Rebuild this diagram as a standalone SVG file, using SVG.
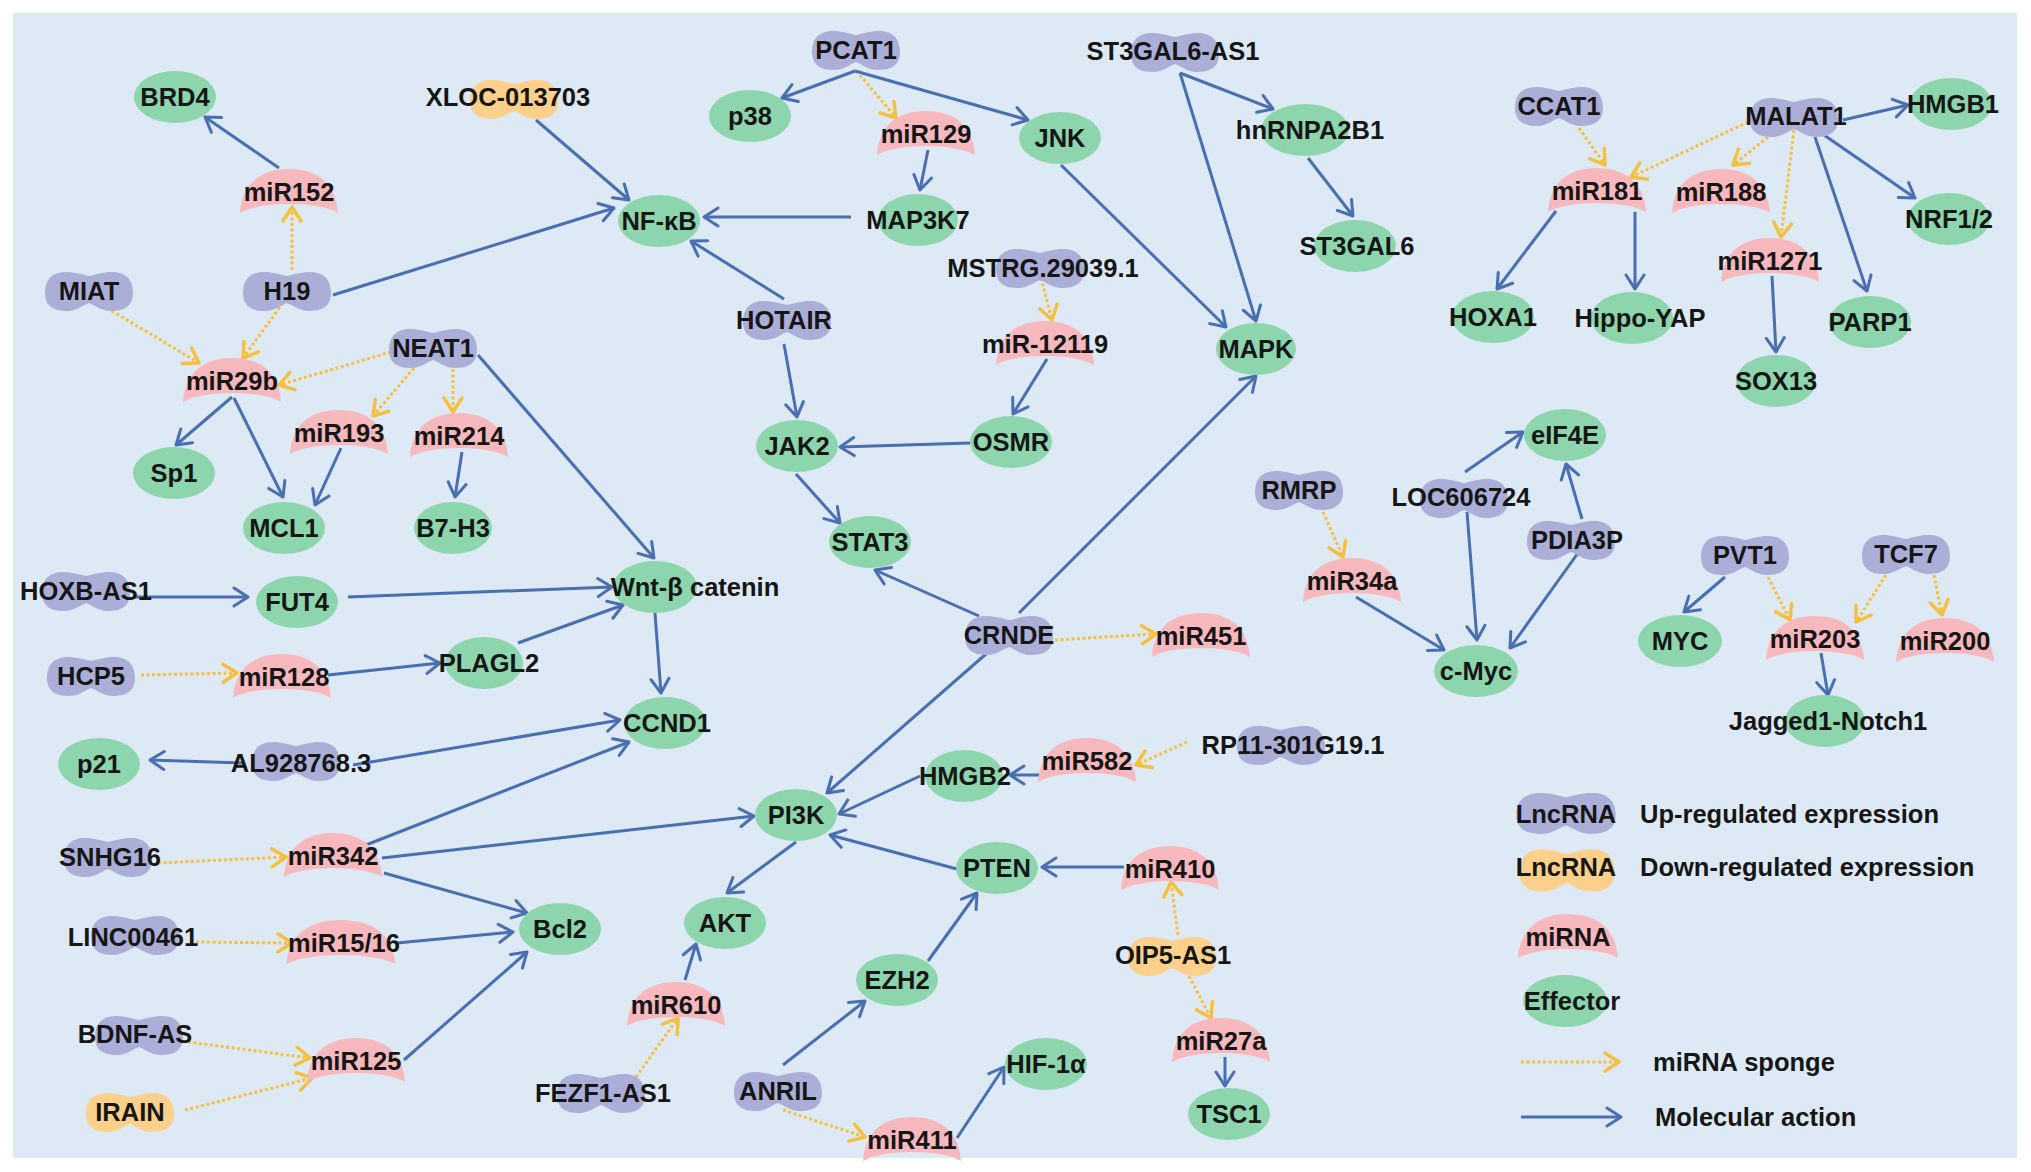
<svg xmlns="http://www.w3.org/2000/svg" width="2031" height="1172" viewBox="0 0 2031 1172">
<style>
.t{font-family:"Liberation Sans",Arial,sans-serif;font-weight:bold;font-size:25.5px;fill:#161616;text-anchor:middle}
.l{font-family:"Liberation Sans",Arial,sans-serif;font-weight:bold;font-size:25.5px;fill:#161616;text-anchor:start}
.up{fill:#abafd8}
.down{fill:#fdd08c}
.mi{fill:#f7b8be}
.ef{fill:#8dd5ad}
.b{fill:none;stroke:#4a6fb0;stroke-width:3;marker-end:url(#ab)}
.y{fill:none;stroke:#f5c040;stroke-width:3;stroke-dasharray:3 2.5;marker-end:url(#ay)}
</style>
<defs>
<path id="lnc" d="M-44,2 C-44,-14 -34,-20 -20,-19 C-10,-18 -6,-16 0,-15 C6,-16 10,-18 20,-19 C34,-20 44,-14 44,2 C44,16 34,20 22,20 C12,20 6,14 0,12 C-6,14 -12,20 -22,20 C-34,20 -44,16 -44,2 Z"/>
<path id="mir" d="M-49,22 C-47,-8 -28,-22 0,-22 C28,-22 47,-8 49,22 C30,10 -30,10 -49,22 Z"/>
<marker id="ab" markerUnits="userSpaceOnUse" markerWidth="20" markerHeight="22" viewBox="0 0 20 22" refX="17" refY="11" orient="auto"><path d="M3,2 L17,11 L3,20" fill="none" stroke="#4a6fb0" stroke-width="3" stroke-linecap="round" stroke-linejoin="round"/></marker>
<marker id="ay" markerUnits="userSpaceOnUse" markerWidth="20" markerHeight="22" viewBox="0 0 20 22" refX="17" refY="11" orient="auto"><path d="M3,2 L17,11 L3,20" fill="none" stroke="#f5c040" stroke-width="3.5" stroke-linecap="round" stroke-linejoin="round"/></marker>
</defs>
<rect x="0" y="0" width="2031" height="1172" fill="#ffffff"/>
<rect x="13" y="13" width="2004" height="1145" fill="#dde9f5"/>

<g id="connectors">
<line class="b" x1="279" y1="168" x2="205" y2="117"/>
<line class="b" x1="536" y1="120" x2="629" y2="200"/>
<line class="b" x1="333" y1="295" x2="614" y2="208"/>
<line class="b" x1="851" y1="217" x2="704" y2="217"/>
<line class="b" x1="784" y1="299" x2="691" y2="241"/>
<line class="b" x1="855" y1="71" x2="782" y2="98"/>
<line class="b" x1="855" y1="71" x2="1028" y2="120"/>
<line class="b" x1="928" y1="150" x2="920" y2="190"/>
<line class="b" x1="1061" y1="165" x2="1226" y2="327"/>
<line class="b" x1="1180" y1="73" x2="1273" y2="109"/>
<line class="b" x1="1180" y1="73" x2="1256" y2="321"/>
<line class="b" x1="1308" y1="158" x2="1353" y2="216"/>
<line class="b" x1="232" y1="397" x2="176" y2="445"/>
<line class="b" x1="234" y1="398" x2="283" y2="497"/>
<line class="b" x1="341" y1="448" x2="315" y2="505"/>
<line class="b" x1="462" y1="452" x2="455" y2="497"/>
<line class="b" x1="478" y1="355" x2="654" y2="558"/>
<line class="b" x1="784" y1="344" x2="797" y2="417"/>
<line class="b" x1="1047" y1="359" x2="1013" y2="414"/>
<line class="b" x1="970" y1="443" x2="840" y2="447"/>
<line class="b" x1="796" y1="474" x2="840" y2="523"/>
<line class="b" x1="979" y1="616" x2="875" y2="570"/>
<line class="b" x1="1019" y1="613" x2="1256" y2="376"/>
<line class="b" x1="986" y1="654" x2="827" y2="793"/>
<line class="b" x1="134" y1="597" x2="248" y2="597"/>
<line class="b" x1="348" y1="597" x2="612" y2="587"/>
<line class="b" x1="328" y1="675" x2="440" y2="663"/>
<line class="b" x1="518" y1="643" x2="623" y2="605"/>
<line class="b" x1="655" y1="613" x2="661" y2="693"/>
<line class="b" x1="243" y1="763" x2="150" y2="760"/>
<line class="b" x1="353" y1="765" x2="620" y2="720"/>
<line class="b" x1="366" y1="845" x2="629" y2="742"/>
<line class="b" x1="382" y1="858" x2="754" y2="816"/>
<line class="b" x1="384" y1="873" x2="527" y2="913"/>
<line class="b" x1="397" y1="943" x2="513" y2="932"/>
<line class="b" x1="404" y1="1060" x2="527" y2="952"/>
<line class="b" x1="920" y1="776" x2="839" y2="814"/>
<line class="b" x1="1040" y1="775" x2="1010" y2="775"/>
<line class="b" x1="957" y1="869" x2="830" y2="835"/>
<line class="b" x1="796" y1="842" x2="727" y2="893"/>
<line class="b" x1="1124" y1="867" x2="1042" y2="867"/>
<line class="b" x1="928" y1="961" x2="977" y2="893"/>
<line class="b" x1="783" y1="1065" x2="865" y2="1001"/>
<line class="b" x1="685" y1="980" x2="696" y2="944"/>
<line class="b" x1="957" y1="1138" x2="1004" y2="1067"/>
<line class="b" x1="1225" y1="1057" x2="1225" y2="1086"/>
<line class="b" x1="1465" y1="472" x2="1523" y2="432"/>
<line class="b" x1="1582" y1="519" x2="1566" y2="464"/>
<line class="b" x1="1467" y1="512" x2="1477" y2="640"/>
<line class="b" x1="1578" y1="553" x2="1510" y2="648"/>
<line class="b" x1="1356" y1="597" x2="1444" y2="650"/>
<line class="b" x1="1843" y1="120" x2="1908" y2="105"/>
<line class="b" x1="1824" y1="135" x2="1915" y2="198"/>
<line class="b" x1="1815" y1="137" x2="1867" y2="291"/>
<line class="b" x1="1556" y1="211" x2="1497" y2="289"/>
<line class="b" x1="1635" y1="212" x2="1635" y2="289"/>
<line class="b" x1="1772" y1="276" x2="1776" y2="352"/>
<line class="b" x1="1725" y1="577" x2="1684" y2="612"/>
<line class="b" x1="1821" y1="653" x2="1828" y2="695"/>

<line class="y" x1="292" y1="270" x2="292" y2="207"/>
<line class="y" x1="283" y1="303" x2="243" y2="358"/>
<line class="y" x1="107" y1="308" x2="199" y2="363"/>
<line class="y" x1="391" y1="352" x2="279" y2="385"/>
<line class="y" x1="414" y1="368" x2="373" y2="416"/>
<line class="y" x1="453" y1="369" x2="453" y2="412"/>
<line class="y" x1="860" y1="75" x2="896" y2="118"/>
<line class="y" x1="1041" y1="278" x2="1052" y2="320"/>
<line class="y" x1="141" y1="675" x2="237" y2="673"/>
<line class="y" x1="158" y1="863" x2="286" y2="857"/>
<line class="y" x1="196" y1="942" x2="292" y2="943"/>
<line class="y" x1="188" y1="1042" x2="310" y2="1058"/>
<line class="y" x1="185" y1="1110" x2="312" y2="1078"/>
<line class="y" x1="636" y1="1077" x2="678" y2="1018"/>
<line class="y" x1="783" y1="1110" x2="865" y2="1137"/>
<line class="y" x1="1187" y1="742" x2="1136" y2="765"/>
<line class="y" x1="1178" y1="935" x2="1171" y2="882"/>
<line class="y" x1="1189" y1="976" x2="1211" y2="1018"/>
<line class="y" x1="1055" y1="640" x2="1156" y2="634"/>
<line class="y" x1="1323" y1="512" x2="1343" y2="557"/>
<line class="y" x1="1579" y1="128" x2="1605" y2="165"/>
<line class="y" x1="1748" y1="122" x2="1631" y2="177"/>
<line class="y" x1="1768" y1="137" x2="1733" y2="165"/>
<line class="y" x1="1794" y1="130" x2="1781" y2="237"/>
<line class="y" x1="1768" y1="577" x2="1790" y2="620"/>
<line class="y" x1="1886" y1="575" x2="1856" y2="622"/>
<line class="y" x1="1934" y1="575" x2="1942" y2="615"/>
</g>

<!-- LncRNA up -->
<g id="n-PCAT1"><use href="#lnc" class="up" x="856" y="50"/><text class="t" x="856" y="59">PCAT1</text></g>
<g id="n-ST3GAL6-AS1"><use href="#lnc" class="up" x="1175" y="52"/><text class="t" x="1173" y="60">ST3GAL6-AS1</text></g>
<g id="n-MIAT"><use href="#lnc" class="up" x="89" y="291"/><text class="t" x="89" y="300">MIAT</text></g>
<g id="n-H19"><use href="#lnc" class="up" x="287" y="291"/><text class="t" x="287" y="300">H19</text></g>
<g id="n-NEAT1"><use href="#lnc" class="up" x="433" y="348"/><text class="t" x="433" y="357">NEAT1</text></g>
<g id="n-HOTAIR"><use href="#lnc" class="up" x="787" y="320"/><text class="t" x="784" y="329">HOTAIR</text></g>
<g id="n-MSTRG"><use href="#lnc" class="up" x="1040" y="268"/><text class="t" x="1043" y="277">MSTRG.29039.1</text></g>
<g id="n-HOXB-AS1"><use href="#lnc" class="up" x="86" y="591"/><text class="t" x="86" y="600">HOXB-AS1</text></g>
<g id="n-HCP5"><use href="#lnc" class="up" x="91" y="676"/><text class="t" x="91" y="685">HCP5</text></g>
<g id="n-AL928768"><use href="#lnc" class="up" x="296" y="761"/><text class="t" x="301" y="772">AL928768.3</text></g>
<g id="n-SNHG16"><use href="#lnc" class="up" x="108" y="857"/><text class="t" x="110" y="866">SNHG16</text></g>
<g id="n-LINC00461"><use href="#lnc" class="up" x="135" y="935"/><text class="t" x="133" y="946">LINC00461</text></g>
<g id="n-BDNF-AS"><use href="#lnc" class="up" x="139" y="1035"/><text class="t" x="135" y="1043">BDNF-AS</text></g>
<g id="n-FEZF1-AS1"><use href="#lnc" class="up" x="601" y="1093"/><text class="t" x="603" y="1102">FEZF1-AS1</text></g>
<g id="n-ANRIL"><use href="#lnc" class="up" x="778" y="1091"/><text class="t" x="778" y="1100">ANRIL</text></g>
<g id="n-CRNDE"><use href="#lnc" class="up" x="1009" y="635"/><text class="t" x="1009" y="644">CRNDE</text></g>
<g id="n-RP11"><use href="#lnc" class="up" x="1281" y="745"/><text class="t" x="1293" y="754">RP11-301G19.1</text></g>
<g id="n-RMRP"><use href="#lnc" class="up" x="1299" y="490"/><text class="t" x="1299" y="499">RMRP</text></g>
<g id="n-LOC606724"><use href="#lnc" class="up" x="1464" y="498"/><text class="t" x="1461" y="506">LOC606724</text></g>
<g id="n-PDIA3P"><use href="#lnc" class="up" x="1571" y="540"/><text class="t" x="1577" y="549">PDIA3P</text></g>
<g id="n-CCAT1"><use href="#lnc" class="up" x="1559" y="106"/><text class="t" x="1559" y="115">CCAT1</text></g>
<g id="n-MALAT1"><use href="#lnc" class="up" x="1794" y="117"/><text class="t" x="1796" y="125">MALAT1</text></g>
<g id="n-PVT1"><use href="#lnc" class="up" x="1745" y="555"/><text class="t" x="1745" y="564">PVT1</text></g>
<g id="n-TCF7"><use href="#lnc" class="up" x="1906" y="554"/><text class="t" x="1906" y="563">TCF7</text></g>

<!-- LncRNA down -->
<g id="n-XLOC"><use href="#lnc" class="down" x="514" y="99"/><text class="t" x="508" y="106">XLOC-013703</text></g>
<g id="n-IRAIN"><use href="#lnc" class="down" x="130" y="1112"/><text class="t" x="130" y="1121">IRAIN</text></g>
<g id="n-OIP5-AS1"><use href="#lnc" class="down" x="1172" y="956"/><text class="t" x="1173" y="964">OIP5-AS1</text></g>

<!-- miRNA -->
<g id="n-miR152"><use href="#mir" class="mi" x="289" y="191"/><text class="t" x="289" y="201">miR152</text></g>
<g id="n-miR29b"><use href="#mir" class="mi" x="232" y="380"/><text class="t" x="232" y="390">miR29b</text></g>
<g id="n-miR193"><use href="#mir" class="mi" x="339" y="432"/><text class="t" x="339" y="442">miR193</text></g>
<g id="n-miR214"><use href="#mir" class="mi" x="459" y="435"/><text class="t" x="459" y="445">miR214</text></g>
<g id="n-miR129"><use href="#mir" class="mi" x="926" y="133"/><text class="t" x="926" y="143">miR129</text></g>
<g id="n-miR-12119"><use href="#mir" class="mi" x="1045" y="343"/><text class="t" x="1045" y="353">miR-12119</text></g>
<g id="n-miR128"><use href="#mir" class="mi" x="282" y="676"/><text class="t" x="284" y="686">miR128</text></g>
<g id="n-miR342"><use href="#mir" class="mi" x="333" y="855"/><text class="t" x="333" y="865">miR342</text></g>
<g id="n-miR15-16"><use href="#mir" class="mi" transform="translate(341,942) scale(1.11,1)"/><text class="t" x="344" y="952">miR15/16</text></g>
<g id="n-miR125"><use href="#mir" class="mi" x="356" y="1060"/><text class="t" x="356" y="1070">miR125</text></g>
<g id="n-miR610"><use href="#mir" class="mi" x="676" y="1004"/><text class="t" x="676" y="1014">miR610</text></g>
<g id="n-miR411"><use href="#mir" class="mi" x="912" y="1139"/><text class="t" x="912" y="1149">miR411</text></g>
<g id="n-miR582"><use href="#mir" class="mi" x="1087" y="760"/><text class="t" x="1087" y="770">miR582</text></g>
<g id="n-miR410"><use href="#mir" class="mi" x="1170" y="868"/><text class="t" x="1170" y="878">miR410</text></g>
<g id="n-miR27a"><use href="#mir" class="mi" x="1221" y="1040"/><text class="t" x="1221" y="1050">miR27a</text></g>
<g id="n-miR451"><use href="#mir" class="mi" x="1201" y="635"/><text class="t" x="1201" y="645">miR451</text></g>
<g id="n-miR34a"><use href="#mir" class="mi" x="1352" y="580"/><text class="t" x="1352" y="590">miR34a</text></g>
<g id="n-miR181"><use href="#mir" class="mi" x="1597" y="190"/><text class="t" x="1597" y="200">miR181</text></g>
<g id="n-miR188"><use href="#mir" class="mi" x="1721" y="191"/><text class="t" x="1721" y="201">miR188</text></g>
<g id="n-miR1271"><use href="#mir" class="mi" x="1770" y="260"/><text class="t" x="1770" y="270">miR1271</text></g>
<g id="n-miR203"><use href="#mir" class="mi" x="1815" y="638"/><text class="t" x="1815" y="648">miR203</text></g>
<g id="n-miR200"><use href="#mir" class="mi" x="1945" y="640"/><text class="t" x="1945" y="650">miR200</text></g>

<!-- Effectors -->
<g id="n-BRD4"><ellipse class="ef" cx="175" cy="97" rx="41" ry="26"/><text class="t" x="175" y="106">BRD4</text></g>
<g id="n-NFkB"><ellipse class="ef" cx="659" cy="221" rx="41" ry="26"/><text class="t" x="659" y="230">NF-κB</text></g>
<g id="n-p38"><ellipse class="ef" cx="750" cy="116" rx="41" ry="26"/><text class="t" x="750" y="125">p38</text></g>
<g id="n-JNK"><ellipse class="ef" cx="1060" cy="138" rx="41" ry="26"/><text class="t" x="1060" y="147">JNK</text></g>
<g id="n-MAP3K7"><ellipse class="ef" cx="918" cy="220" rx="40" ry="26"/><text class="t" x="918" y="229">MAP3K7</text></g>
<g id="n-hnRNPA2B1"><ellipse class="ef" cx="1305" cy="130" rx="44" ry="26"/><text class="t" x="1310" y="139">hnRNPA2B1</text></g>
<g id="n-ST3GAL6"><ellipse class="ef" cx="1355" cy="246" rx="41" ry="26"/><text class="t" x="1357" y="255">ST3GAL6</text></g>
<g id="n-MAPK"><ellipse class="ef" cx="1256" cy="349" rx="40" ry="26"/><text class="t" x="1256" y="358">MAPK</text></g>
<g id="n-Sp1"><ellipse class="ef" cx="174" cy="473" rx="41" ry="26"/><text class="t" x="174" y="482">Sp1</text></g>
<g id="n-MCL1"><ellipse class="ef" cx="284" cy="528" rx="41" ry="26"/><text class="t" x="284" y="537">MCL1</text></g>
<g id="n-B7-H3"><ellipse class="ef" cx="453" cy="528" rx="39" ry="26"/><text class="t" x="453" y="537">B7-H3</text></g>
<g id="n-JAK2"><ellipse class="ef" cx="797" cy="446" rx="41" ry="26"/><text class="t" x="797" y="455">JAK2</text></g>
<g id="n-OSMR"><ellipse class="ef" cx="1011" cy="442" rx="41" ry="26"/><text class="t" x="1011" y="451">OSMR</text></g>
<g id="n-STAT3"><ellipse class="ef" cx="870" cy="542" rx="41" ry="26"/><text class="t" x="870" y="551">STAT3</text></g>
<g id="n-FUT4"><ellipse class="ef" cx="297" cy="602" rx="41" ry="26"/><text class="t" x="297" y="611">FUT4</text></g>
<g id="n-Wnt"><ellipse class="ef" cx="655" cy="587" rx="42" ry="26"/><text class="t" x="695" y="596">Wnt-β catenin</text></g>
<g id="n-PLAGL2"><ellipse class="ef" cx="484" cy="663" rx="39" ry="26"/><text class="t" x="489" y="672">PLAGL2</text></g>
<g id="n-CCND1"><ellipse class="ef" cx="665" cy="723" rx="41" ry="26"/><text class="t" x="667" y="732">CCND1</text></g>
<g id="n-p21"><ellipse class="ef" cx="99" cy="764" rx="41" ry="26"/><text class="t" x="99" y="773">p21</text></g>
<g id="n-PI3K"><ellipse class="ef" cx="796" cy="815" rx="41" ry="26"/><text class="t" x="796" y="824">PI3K</text></g>
<g id="n-HMGB2"><ellipse class="ef" cx="964" cy="776" rx="39" ry="26"/><text class="t" x="965" y="785">HMGB2</text></g>
<g id="n-PTEN"><ellipse class="ef" cx="997" cy="868" rx="41" ry="26"/><text class="t" x="997" y="877">PTEN</text></g>
<g id="n-AKT"><ellipse class="ef" cx="725" cy="923" rx="41" ry="26"/><text class="t" x="725" y="932">AKT</text></g>
<g id="n-Bcl2"><ellipse class="ef" cx="560" cy="929" rx="41" ry="26"/><text class="t" x="560" y="938">Bcl2</text></g>
<g id="n-EZH2"><ellipse class="ef" cx="897" cy="980" rx="41" ry="26"/><text class="t" x="897" y="989">EZH2</text></g>
<g id="n-HIF1a"><ellipse class="ef" cx="1046" cy="1064" rx="41" ry="26"/><text class="t" x="1046" y="1073">HIF-1α</text></g>
<g id="n-TSC1"><ellipse class="ef" cx="1229" cy="1114" rx="41" ry="26"/><text class="t" x="1229" y="1123">TSC1</text></g>
<g id="n-eIF4E"><ellipse class="ef" cx="1565" cy="435" rx="41" ry="26"/><text class="t" x="1565" y="444">eIF4E</text></g>
<g id="n-cMyc"><ellipse class="ef" cx="1476" cy="671" rx="42" ry="26"/><text class="t" x="1476" y="680">c-Myc</text></g>
<g id="n-HMGB1"><ellipse class="ef" cx="1951" cy="104" rx="41" ry="26"/><text class="t" x="1953" y="113">HMGB1</text></g>
<g id="n-NRF1-2"><ellipse class="ef" cx="1949" cy="219" rx="41" ry="26"/><text class="t" x="1949" y="228">NRF1/2</text></g>
<g id="n-HOXA1"><ellipse class="ef" cx="1493" cy="317" rx="41" ry="26"/><text class="t" x="1493" y="326">HOXA1</text></g>
<g id="n-Hippo-YAP"><ellipse class="ef" cx="1632" cy="318" rx="41" ry="26"/><text class="t" x="1640" y="327">Hippo-YAP</text></g>
<g id="n-PARP1"><ellipse class="ef" cx="1870" cy="322" rx="41" ry="26"/><text class="t" x="1870" y="331">PARP1</text></g>
<g id="n-SOX13"><ellipse class="ef" cx="1776" cy="381" rx="40" ry="26"/><text class="t" x="1776" y="390">SOX13</text></g>
<g id="n-MYC"><ellipse class="ef" cx="1680" cy="641" rx="42" ry="26"/><text class="t" x="1680" y="650">MYC</text></g>
<g id="n-Jagged1-Notch1"><ellipse class="ef" cx="1825" cy="721" rx="40" ry="26"/><text class="t" x="1828" y="730">Jagged1-Notch1</text></g>

<!-- Legend -->
<g id="legend">
<use href="#lnc" class="up" transform="translate(1566,813) scale(1.13,1.05)"/>
<text class="t" x="1566" y="823">LncRNA</text>
<text class="l" x="1640" y="823">Up-regulated expression</text>
<use href="#lnc" class="down" transform="translate(1567,870) scale(1.08,1.08)"/>
<text class="t" x="1566" y="876">LncRNA</text>
<text class="l" x="1640" y="876">Down-regulated expression</text>
<use href="#mir" class="mi" transform="translate(1568,936) scale(1.02,1)"/>
<text class="t" x="1568" y="946">miRNA</text>
<ellipse class="ef" cx="1565" cy="1001" rx="42" ry="26"/>
<text class="t" x="1572" y="1010">Effector</text>
<line class="y" x1="1521" y1="1062" x2="1619" y2="1062"/>
<text class="l" x="1653" y="1071">miRNA sponge</text>
<line class="b" x1="1521" y1="1117" x2="1621" y2="1117"/>
<text class="l" x="1655" y="1126">Molecular action</text>
</g>
</svg>
